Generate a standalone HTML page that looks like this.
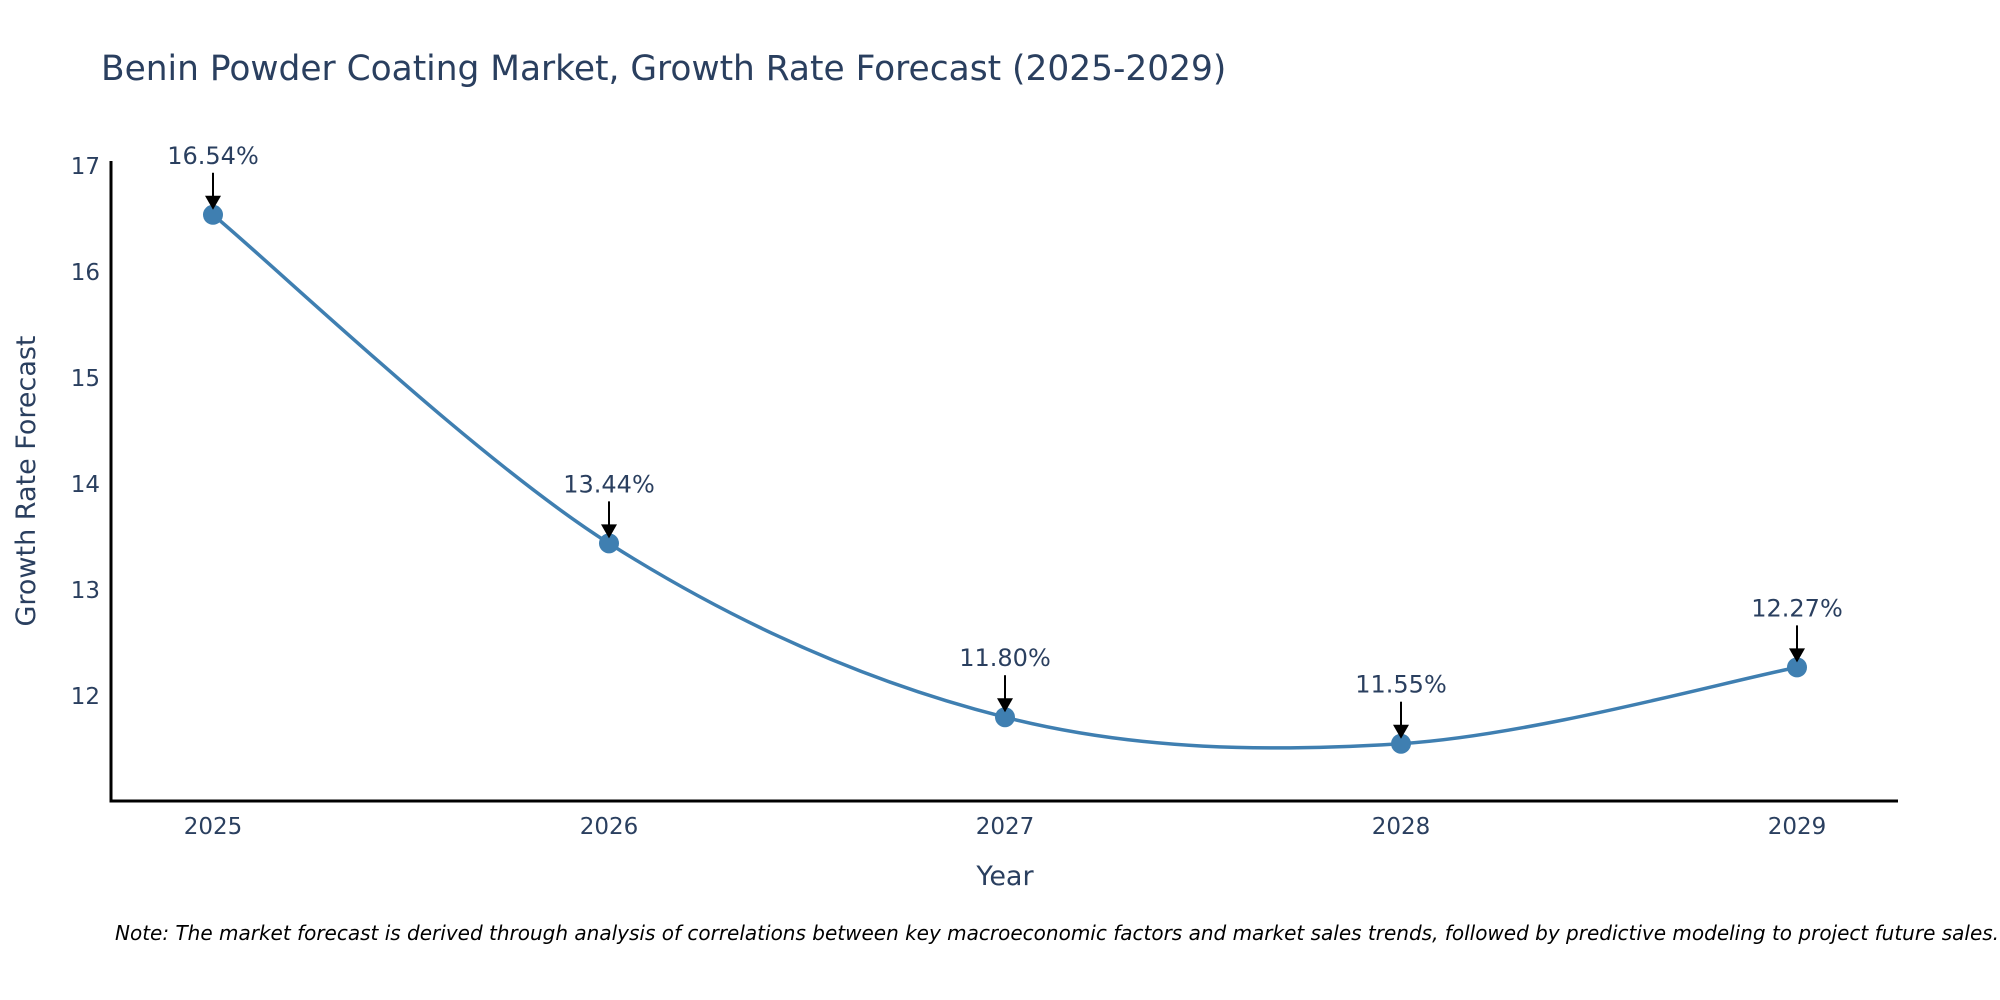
<!DOCTYPE html>
<html><head><meta charset="utf-8"><style>
body{margin:0;background:#fff;}
svg{display:block;font-family:"DejaVu Sans","Liberation Sans",sans-serif;}
</style></head><body>
<svg id="chart" width="2000" height="1000">
<text x="101" y="80" font-size="34.4" fill="#2a3f5f">Benin Powder Coating Market, Growth Rate Forecast (2025-2029)</text>
<g id="plot"></g>
<text x="1005" y="885" font-size="27" fill="#2a3f5f" text-anchor="middle">Year</text>
<text transform="translate(35,481) rotate(-90)" font-size="27" fill="#2a3f5f" text-anchor="middle">Growth Rate Forecast</text>
<text x="115" y="940" font-size="20" font-style="italic" fill="#000">Note: The market forecast is derived through analysis of correlations between key macroeconomic factors and market sales trends, followed by predictive modeling to project future sales.</text>
</svg>
<script>
const years = [2025, 2026, 2027, 2028, 2029];
const values = [16.54, 13.44, 11.80, 11.55, 12.27];
const labels = ["16.54%", "13.44%", "11.80%", "11.55%", "12.27%"];
const yTicks = [12, 13, 14, 15, 16, 17];

const NS = "http://www.w3.org/2000/svg";
const g = document.getElementById("plot");
const X0 = 111, X1 = 1898, Y0 = 161, Y1 = 801;
const xScale = yr => 213 + (yr - 2025) * 396;
const yScale = v => 696 - (v - 12) * 106;
function el(t, a, parent) { const e = document.createElementNS(NS, t); for (const k in a) e.setAttribute(k, a[k]); (parent || g).appendChild(e); return e; }

let ax = el("line", {x1: X0, y1: Y0, x2: X0, y2: Y1 + 1.5, stroke: "#000", "stroke-width": 3});


ax = el("line", {x1: X0 - 1.5, y1: Y1, x2: X1, y2: Y1, stroke: "#000", "stroke-width": 3});



yTicks.forEach(t => {
  const tx = el("text", {x: 100, y: yScale(t) + 8, "font-size": 23, fill: "#2a3f5f", "text-anchor": "end"});
  tx.textContent = t;
  
  
});
years.forEach(y => {
  const tx = el("text", {x: xScale(y), y: 834, "font-size": 23, fill: "#2a3f5f", "text-anchor": "middle"});
  tx.textContent = y;
  
  
});

const pts = years.map((y, i) => [xScale(y), yScale(values[i])]);
let d = "M" + pts[0][0] + "," + pts[0][1];
const s = 0.5;
for (let i = 0; i < pts.length - 1; i++) {
  const p0 = pts[i - 1] || pts[i], p1 = pts[i], p2 = pts[i + 1], p3 = pts[i + 2] || pts[i + 1];
  const c1 = [p1[0] + (p2[0] - p0[0]) * s / 3, p1[1] + (p2[1] - p0[1]) * s / 3];
  const c2 = [p2[0] - (p3[0] - p1[0]) * s / 3, p2[1] - (p3[1] - p1[1]) * s / 3];
  d += " C" + c1.join(",") + " " + c2.join(",") + " " + p2.join(",");
}
const line = el("path", {d: d, fill: "none", stroke: "#3f7fb1", "stroke-width": 3.5});



pts.forEach((p, i) => {
  const c = el("circle", {cx: p[0], cy: p[1], r: 10, fill: "#3f7fb1"});
  
  
  const a = el("line", {x1: p[0], y1: p[1] - 42, x2: p[0], y2: p[1] - 18, stroke: "#000", "stroke-width": 2});
  
  
  const h = el("polygon", {points: `${p[0]-8},${p[1]-19} ${p[0]+8},${p[1]-19} ${p[0]},${p[1]-5}`, fill: "#000"});
  
  
  const t = el("text", {x: p[0], y: p[1] - 51, "font-size": 24, fill: "#2a3f5f", "text-anchor": "middle"});
  t.textContent = labels[i];
  
  
});
</script>
</body></html>
